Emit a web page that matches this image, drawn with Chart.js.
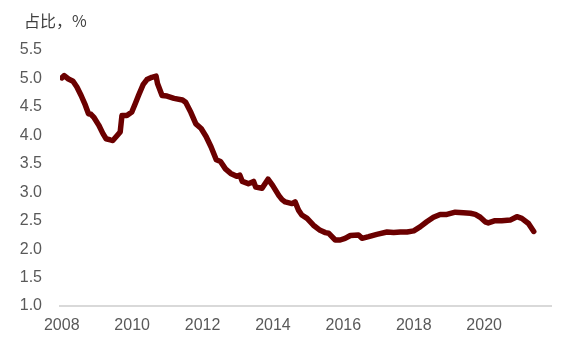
<!DOCTYPE html>
<html>
<head>
<meta charset="utf-8">
<script src="https://cdn.jsdelivr.net/npm/chart.js@4/dist/chart.umd.min.js"></script>
<style>
html,body{margin:0;padding:0;background:#fff;}
#wrap{width:562px;height:339px;position:relative;}
</style>
</head>
<body>
<div id="wrap"><canvas id="c" width="562" height="339"></canvas></div>
<script>
const yAxisTitle = "占比，%";
const tickYears = [2008, 2010, 2012, 2014, 2016, 2018, 2020];
const years = [2008.00,2008.07,2008.19,2008.32,2008.43,2008.55,2008.67,2008.76,2008.83,2008.92,
  2009.05,2009.17,2009.26,2009.38,2009.45,2009.55,2009.66,2009.71,2009.85,2009.99,
  2010.09,2010.18,2010.31,2010.42,2010.56,2010.68,2010.72,2010.85,2010.99,2011.19,
  2011.43,2011.52,2011.67,2011.81,2011.96,2012.10,2012.24,2012.39,2012.51,2012.65,
  2012.80,2012.97,2013.06,2013.13,2013.30,2013.45,2013.51,2013.69,2013.86,2013.99,
  2014.17,2014.26,2014.35,2014.54,2014.63,2014.73,2014.82,2014.97,2015.15,2015.34,
  2015.49,2015.58,2015.77,2015.91,2016.05,2016.20,2016.43,2016.53,2016.72,2016.95,
  2017.24,2017.43,2017.62,2017.81,2018.00,2018.18,2018.37,2018.56,2018.75,2018.94,
  2019.18,2019.41,2019.61,2019.75,2019.89,2020.03,2020.12,2020.31,2020.50,2020.74,
  2020.93,2021.07,2021.26,2021.41];
const share = [5.01,5.05,4.99,4.95,4.85,4.70,4.53,4.38,4.37,4.31,
  4.18,4.03,3.94,3.92,3.91,3.98,4.06,4.35,4.35,4.41,
  4.56,4.70,4.89,4.98,5.02,5.04,4.91,4.70,4.69,4.65,
  4.62,4.58,4.40,4.20,4.12,3.98,3.80,3.57,3.54,3.41,
  3.33,3.28,3.30,3.19,3.15,3.19,3.09,3.07,3.23,3.12,
  2.94,2.87,2.83,2.80,2.83,2.68,2.60,2.54,2.42,2.33,
  2.29,2.28,2.16,2.16,2.19,2.24,2.25,2.19,2.22,2.26,
  2.30,2.29,2.30,2.30,2.32,2.39,2.48,2.56,2.61,2.61,
  2.65,2.64,2.63,2.61,2.56,2.48,2.46,2.50,2.50,2.51,
  2.57,2.54,2.45,2.31];

const points = years.map((x, i) => ({x: x, y: share[i]}));

const titlePlugin = {
  id: 'cornerTitle',
  afterDraw(chart) {
    const ctx = chart.ctx;
    ctx.save();
    ctx.font = '16px "Noto Sans CJK SC", "Liberation Sans", sans-serif';
    ctx.fillStyle = '#404040';
    ctx.textBaseline = 'middle';
    ctx.textAlign = 'left';
    ctx.fillText(yAxisTitle, 24, 21);
    ctx.restore();
  }
};

new Chart(document.getElementById('c'), {
  type: 'line',
  data: {
    datasets: [{
      data: points,
      borderColor: '#6b0000',
      backgroundColor: '#6b0000',
      borderWidth: 5.5,
      pointRadius: 0,
      tension: 0,
      borderJoinStyle: 'round',
      borderCapStyle: 'round',
      fill: false
    }]
  },
  options: {
    responsive: false,
    animation: false,
    layout: { padding: { left: 18, right: 11, top: 50, bottom: 2 } },
    plugins: { legend: { display: false }, tooltip: { enabled: false }, title: { display: false } },
    scales: {
      x: {
        type: 'linear',
        min: 2007.95,
        max: 2021.9,
        afterBuildTicks: s => { s.ticks = tickYears.map(v => ({ value: v })); },
        afterFit: s => { s.height = 31; },
        grid: { display: false, drawTicks: false },
        border: { display: true, color: '#d9d9d9', width: 2 },
        ticks: {
          padding: 10,
          color: '#595959',
          font: { family: '"Liberation Sans", Arial, sans-serif', size: 16 },
          maxRotation: 0,
          autoSkip: false,
          callback: v => String(v)
        }
      },
      y: {
        min: 1.0,
        max: 5.5,
        afterFit: s => { s.width = 42; },
        grid: { display: false, drawTicks: false },
        border: { display: false },
        ticks: {
          stepSize: 0.5,
          padding: 18,
          color: '#595959',
          font: { family: '"Liberation Sans", Arial, sans-serif', size: 16 },
          callback: v => v.toFixed(1)
        }
      }
    }
  },
  plugins: [titlePlugin]
});
</script>
</body>
</html>
